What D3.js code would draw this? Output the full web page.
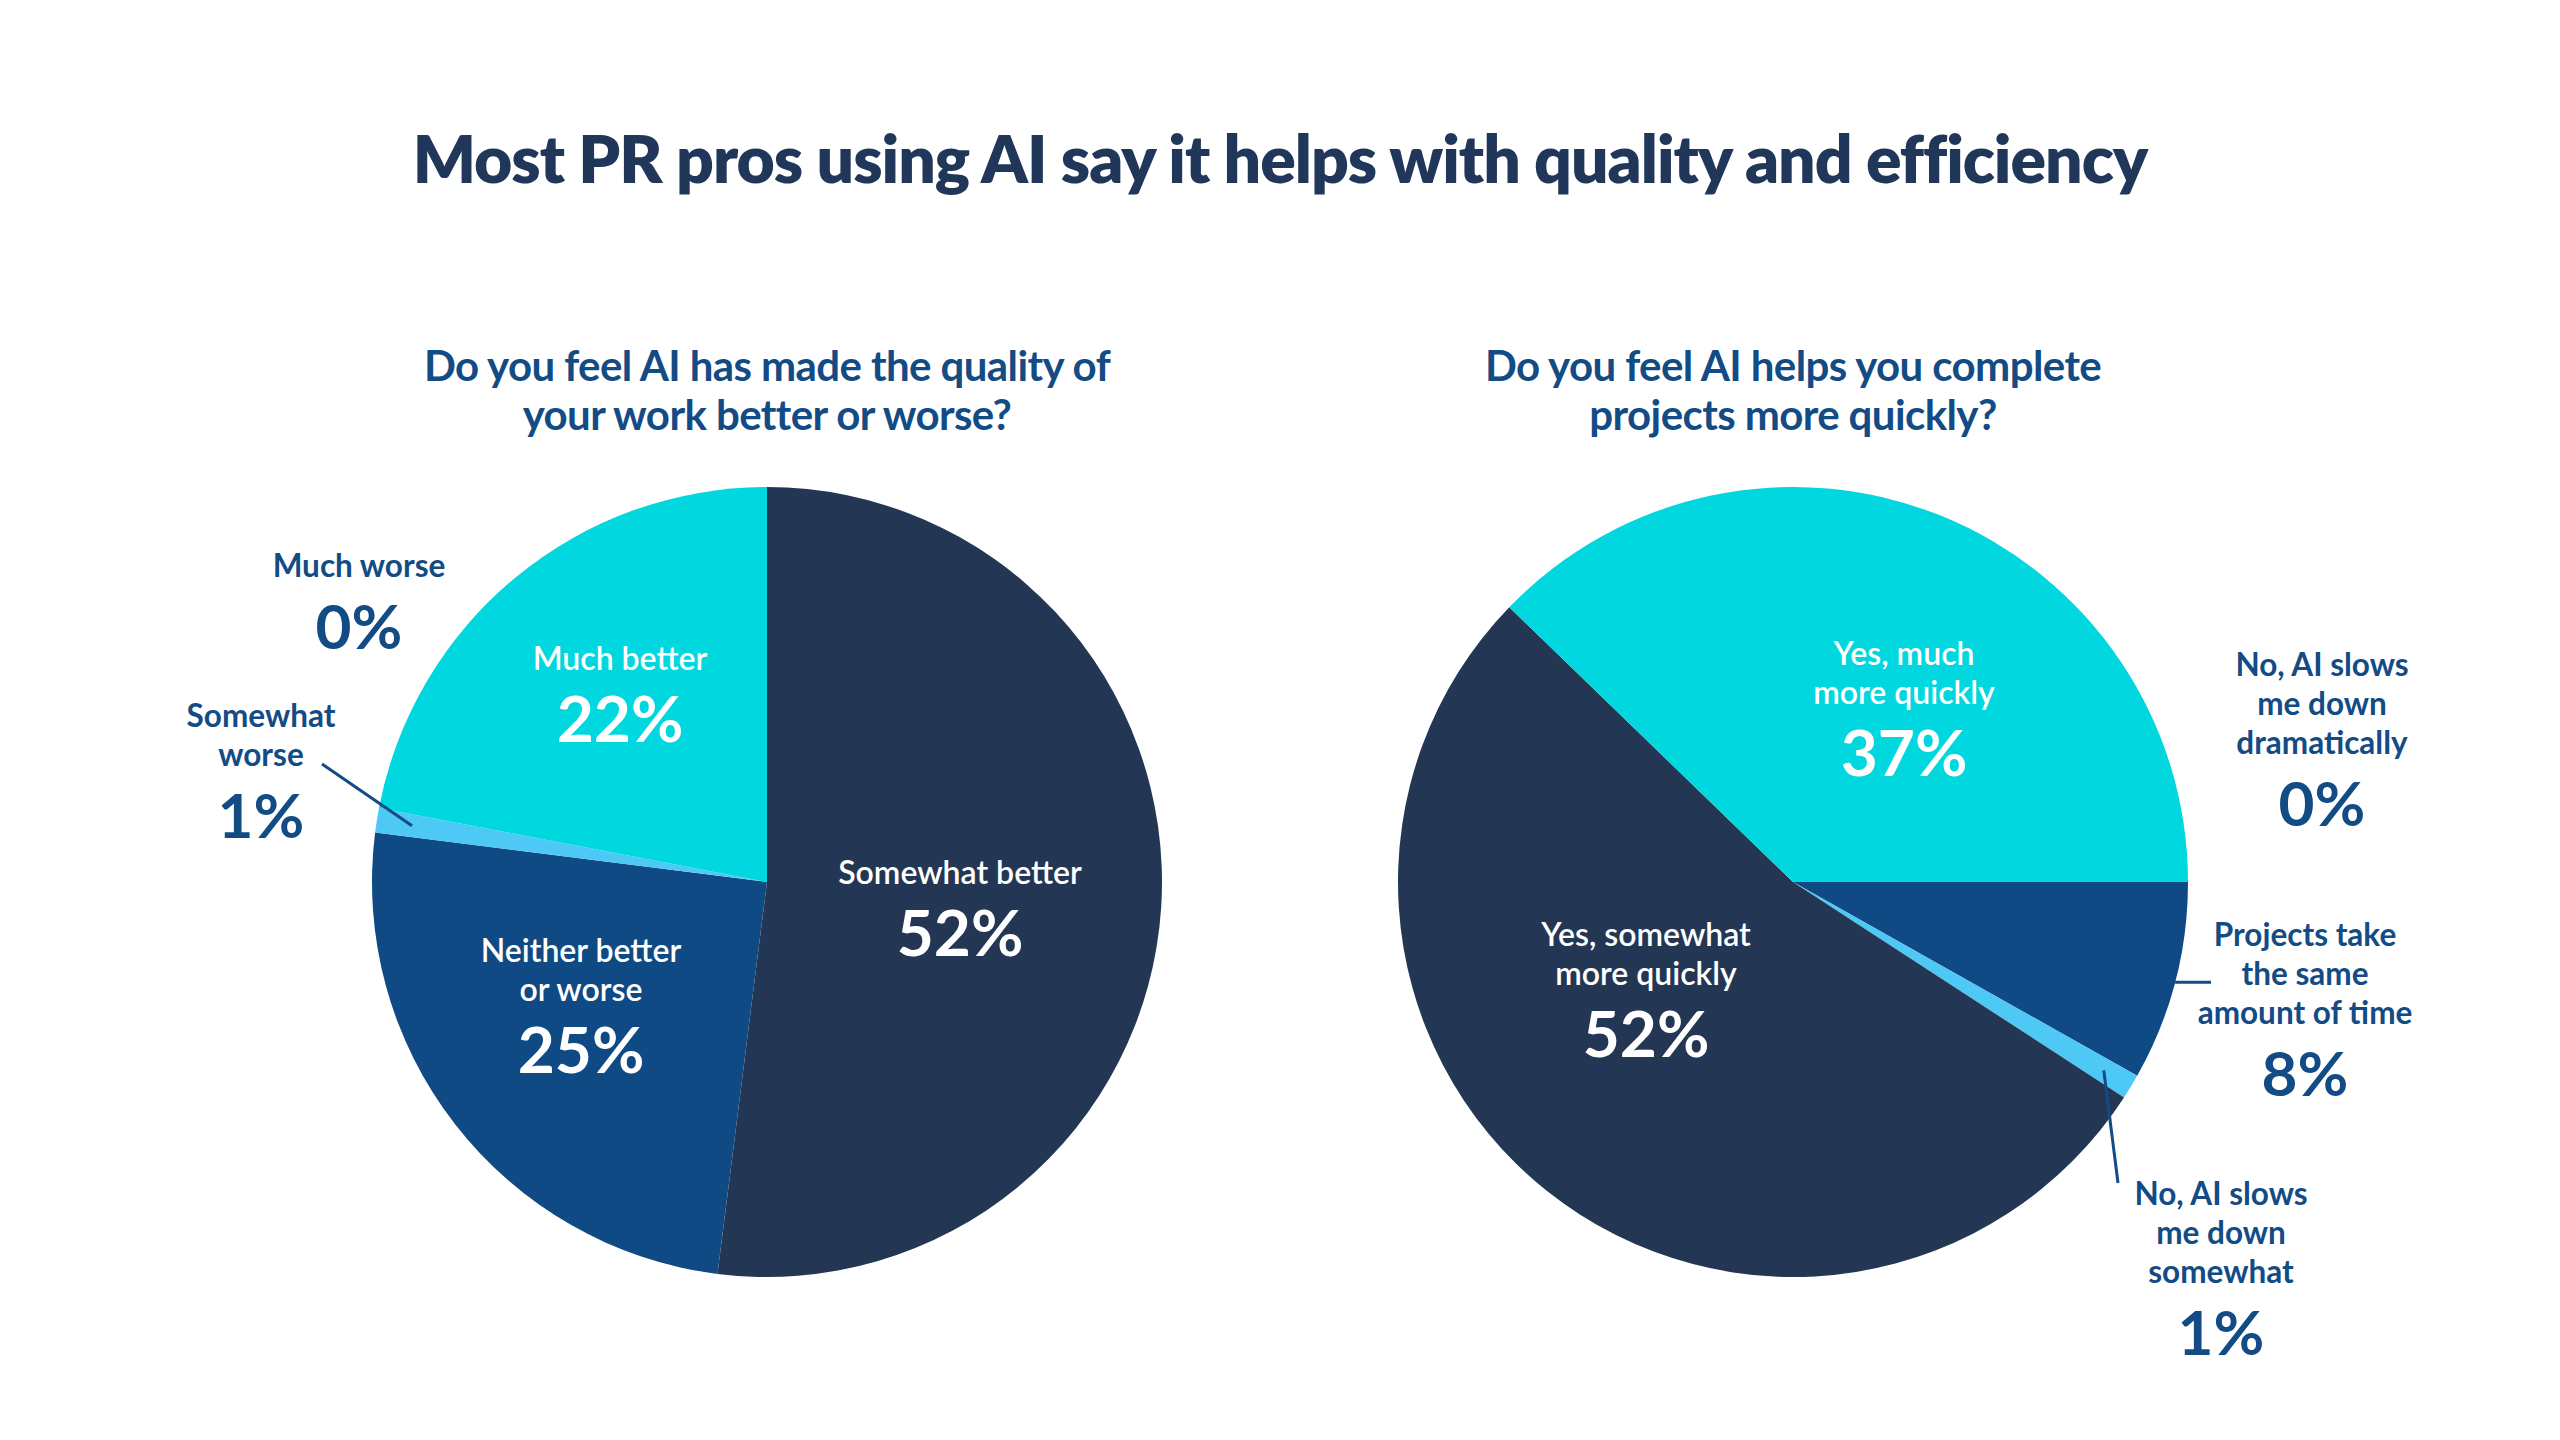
<!DOCTYPE html>
<html>
<head>
<meta charset="utf-8">
<script src="https://cdn.jsdelivr.net/npm/d3@7"></script>
<style>
  html, body { margin: 0; padding: 0; background: #ffffff; }
  svg { display: block; }
  text { font-family: Lato, "Open Sans", sans-serif; }
</style>
</head>
<body>
<svg id="chart" width="2560" height="1440"></svg>
<script>
// ---------- DATA ----------
const chartTitle = "Most PR pros using AI say it helps with quality and efficiency";

const qualityQuestion = ["Do you feel AI has made the quality of", "your work better or worse?"];
const qualityCategories = ["Somewhat better", "Neither better or worse", "Somewhat worse", "Much better", "Much worse"];
const qualityValues = [52, 25, 1, 22, 0];

const speedQuestion = ["Do you feel AI helps you complete", "projects more quickly?"];
const speedCategories = ["Projects take the same amount of time", "No, AI slows me down somewhat", "Yes, somewhat more quickly", "Yes, much more quickly", "No, AI slows me down dramatically"];
const speedValues = [8, 1, 52, 37, 0];

// ---------- STYLE / LAYOUT ----------
const W = 2560, H = 1440;
const colorMap = {
  "Somewhat better": "#233754",
  "Neither better or worse": "#104A85",
  "Somewhat worse": "#4EC8F4",
  "Much better": "#00D7DF",
  "Much worse": "#104A85",
  "Projects take the same amount of time": "#104A85",
  "No, AI slows me down somewhat": "#4EC8F4",
  "Yes, somewhat more quickly": "#233754",
  "Yes, much more quickly": "#00D7DF",
  "No, AI slows me down dramatically": "#104A85"
};
const titleColor = "#21375A";
const blue = "#134B85";
const R = 395;

// label layout: lines, position (absolute), inside or not, optional leader
const labelLayout = {
  "Somewhat better": { lines: ["Somewhat better"], x: 960, y: 887, inside: true },
  "Neither better or worse": { lines: ["Neither better", "or worse"], x: 581, y: 965, inside: true },
  "Much better": { lines: ["Much better"], x: 620, y: 673, inside: true },
  "Much worse": { lines: ["Much worse"], x: 359, y: 580, inside: false },
  "Somewhat worse": { lines: ["Somewhat", "worse"], x: 261, y: 730, inside: false, leader: { to: [322, 764], r: 0.91 } },
  "Yes, much more quickly": { lines: ["Yes, much", "more quickly"], x: 1904, y: 668, inside: true },
  "Yes, somewhat more quickly": { lines: ["Yes, somewhat", "more quickly"], x: 1646, y: 949, inside: true },
  "No, AI slows me down dramatically": { lines: ["No, AI slows", "me down", "dramatically"], x: 2322, y: 679, inside: false },
  "Projects take the same amount of time": { lines: ["Projects take", "the same", "amount of time"], x: 2305, y: 949, inside: false, leader: { to: [2211, null], r: 1.0 } },
  "No, AI slows me down somewhat": { lines: ["No, AI slows", "me down", "somewhat"], x: 2221, y: 1208, inside: false, leader: { to: [2118, 1183], r: 0.92 } }
};

const svg = d3.select("#chart");

svg.append("text")
  .attr("x", W / 2).attr("y", 183)
  .attr("text-anchor", "middle")
  .attr("fill", titleColor)
  .attr("font-size", 66)
  .attr("font-weight", 800)
  .attr("letter-spacing", -1)
  .text(chartTitle);

function drawPie(cx, cy, question, categories, values, startAngle) {
  const g = svg.append("g");
  // question
  g.selectAll("text.q").data(question).join("text")
    .attr("class", "q")
    .attr("x", cx).attr("y", (d, i) => 381 + i * 49)
    .attr("text-anchor", "middle")
    .attr("fill", blue)
    .attr("font-size", 42)
    .attr("font-weight", 700)
    .attr("letter-spacing", -0.6)
    .text(d => d);

  const data = categories.map((c, i) => ({ category: c, value: values[i] }));
  const pie = d3.pie().sort(null).value(d => d.value)
    .startAngle(startAngle).endAngle(startAngle + 2 * Math.PI);
  const arcs = pie(data);
  const arc = d3.arc().innerRadius(0).outerRadius(R);

  const pg = g.append("g").attr("transform", `translate(${cx},${cy})`);
  pg.selectAll("path").data(arcs.filter(a => a.value > 0)).join("path")
    .attr("d", arc)
    .attr("fill", d => colorMap[d.data.category]);

  arcs.forEach(a => {
    const L = labelLayout[a.data.category];
    if (!L) return;
    const col = L.inside ? "#ffffff" : blue;
    const lh = 39;
    const t = g.append("g");
    L.lines.forEach((ln, i) => {
      t.append("text")
        .attr("x", L.x).attr("y", L.y - 3 + i * lh)
        .attr("text-anchor", "middle")
        .attr("fill", col)
        .attr("font-size", L.inside ? 32 : 31.5)
        .attr("font-weight", L.inside ? 600 : 700)
        .text(ln);
    });
    t.append("text")
      .attr("x", L.x).attr("y", L.y + (L.lines.length - 1) * lh + 69)
      .attr("text-anchor", "middle")
      .attr("fill", col)
      .attr("font-size", L.inside ? 64 : 62)
      .attr("font-weight", 700)
      .text(d3.format(".0f")(a.value) + "%");
    if (L.leader) {
      const mid = (a.startAngle + a.endAngle) / 2;
      const rr = R * L.leader.r;
      const sx = cx + rr * Math.sin(mid);
      const sy = cy - rr * Math.cos(mid);
      const ex = L.leader.to[0];
      const ey = L.leader.to[1] == null ? sy : L.leader.to[1];
      g.append("line")
        .attr("x1", sx).attr("y1", sy).attr("x2", ex).attr("y2", ey)
        .attr("stroke", blue).attr("stroke-width", 3);
    }
  });
}

drawPie(767, 882, qualityQuestion, qualityCategories, qualityValues, 0);
drawPie(1793, 882, speedQuestion, speedCategories, speedValues, Math.PI / 2);
</script>
</body>
</html>
